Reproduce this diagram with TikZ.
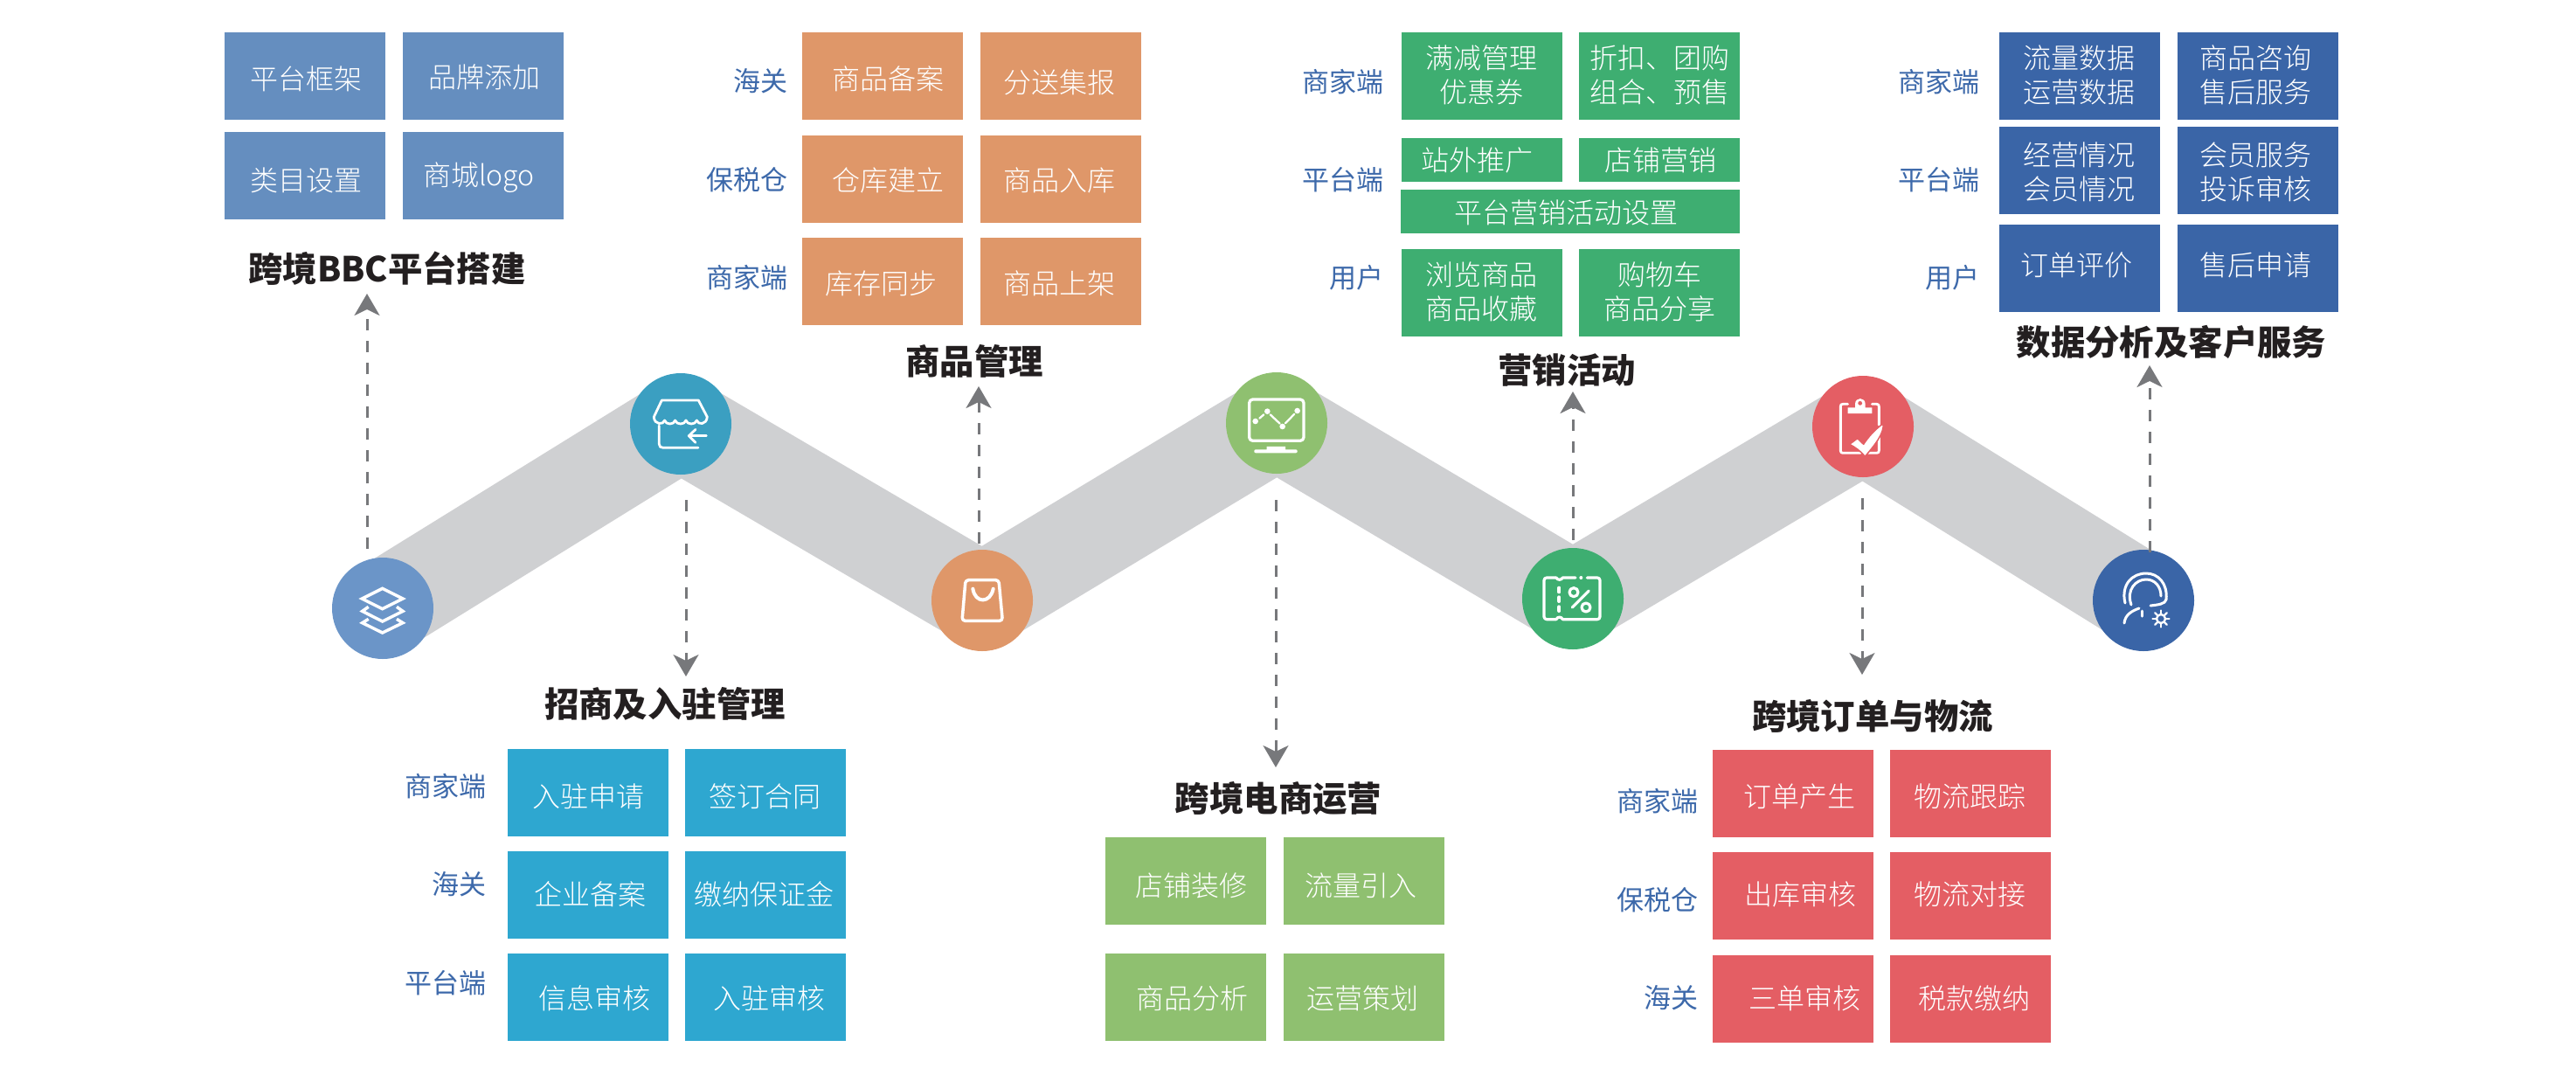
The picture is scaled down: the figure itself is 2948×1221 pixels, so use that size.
\documentclass[tikz,border=0pt]{standalone}
\usepackage{fontspec}
\setmainfont{Noto Sans CJK SC}
\newfontfamily\thinfont{Noto Sans CJK SC Light}
\usepackage{tikz}
\usetikzlibrary{arrows.meta,backgrounds,calc}
\definecolor{frameblue}{HTML}{658EBF}
\definecolor{hubblue}{HTML}{6B95C8}
\definecolor{entrycyan}{HTML}{2EA7D0}
\definecolor{hubcyan}{HTML}{3B9FC1}
\definecolor{goodsorange}{HTML}{DF9769}
\definecolor{opsgreen}{HTML}{8FC070}
\definecolor{promogreen}{HTML}{3EAE71}
\definecolor{orderred}{HTML}{E45E64}
\definecolor{servblue}{HTML}{3A65A7}
\definecolor{bandgray}{HTML}{CFD0D2}
\definecolor{flowgray}{HTML}{77787B}
\definecolor{sideblue}{HTML}{3D69AA}
\definecolor{titleblack}{HTML}{231F20}
\begin{document}
\begin{tikzpicture}[
    x=1pt, y=-1pt,
    tile/.style={minimum width=184pt, minimum height=100pt, inner sep=0pt},
    tiletxt/.style={text=white, align=center, inner sep=0pt, font=\thinfont\fontsize{32}{39}\selectfont},
    sidelab/.style={text=sideblue, anchor=east, inner sep=0pt, font=\fontsize{31}{39}\selectfont},
    paneltitle/.style={text=titleblack, inner sep=0pt, font=\bfseries\fontsize{39.4}{45}\selectfont},
    hub/.style={circle, minimum size=116pt, inner sep=0pt},
    flow/.style={-{Stealth[length=25pt,width=29pt,inset=7pt]}, flowgray, line width=3pt, dash pattern=on 13pt off 12pt},
    icon/.style={white, line width=3pt, line cap=round, line join=round},
]
\useasboundingbox (0,0) rectangle (2948,1221);
% Hubs along the ribbon
\node[hub, fill=hubblue] (hub1) at (438,696) {};
\node[hub, fill=hubcyan] (hub2) at (779,485) {};
\node[hub, fill=goodsorange] (hub3) at (1124,687) {};
\node[hub, fill=opsgreen] (hub4) at (1461,484) {};
\node[hub, fill=promogreen] (hub5) at (1800,685) {};
\node[hub, fill=orderred] (hub6) at (2132,488) {};
\node[hub, fill=servblue] (hub7) at (2453,687) {};
\begin{pgfonlayer}{background}
\draw[bandgray, line width=107pt, line join=bevel] (hub1.center) -- (hub2.center) -- (hub3.center) -- (hub4.center) -- (hub5.center) -- (hub6.center) -- (hub7.center);
\end{pgfonlayer}

% Platform setup
\foreach \bx/\by/\tx/\ty/\lab [count=\i] in {349/87/350/90/平台框架, 553/87/554/88/品牌添加, 349/201/350/206/类目设置, 553/201/548/203/商城logo} {
    \node[tile, fill=frameblue] (fb\i) at (\bx,\by) {};
    \node[tiletxt] (ft\i) at (\tx,\ty) {\lab};
}
\node[paneltitle] (ttl1) at (443,307) {跨境BBC平台搭建};

% Goods
\foreach \bx/\by/\tx/\ty/\lab [count=\i] in {1010/87/1016/90/商品备案, 1214/87/1212/94/分送集报, 1010/205/1016/206/仓库建立, 1214/205/1212/206/商品入库, 1010/322/1008/324/库存同步, 1214/322/1212/324/商品上架} {
    \node[tile, fill=goodsorange] (gb\i) at (\bx,\by) {};
    \node[tiletxt] (gt\i) at (\tx,\ty) {\lab};
}
\node[sidelab] (gs1) at (902,93) {海关};
\node[sidelab] (gs2) at (902,206) {保税仓};
\node[sidelab] (gs3) at (902,318) {商家端};
\node[paneltitle] (ttl3) at (1115,413) {商品管理};

% Promotions
\foreach \bx/\by/\tx/\ty/\lab [count=\i] in {1696/87/1695/86/{满减管理\\优惠券}, 1899/87/1899/86/{折扣、团购\\组合、预售}, 1696/335/1695/334/{浏览商品\\商品收藏}, 1899/335/1899/334/{购物车\\商品分享}} {
    \node[tile, fill=promogreen] (pb\i) at (\bx,\by) {};
    \node[tiletxt] (pt\i) at (\tx,\ty) {\lab};
}
\node[tile, minimum height=50pt, fill=promogreen] (pb5) at (1696,183) {};
\node[tiletxt] (pt5) at (1690,183) {站外推广};
\node[tile, minimum height=50pt, fill=promogreen] (pb6) at (1899,183) {};
\node[tiletxt] (pt6) at (1900,183) {店铺营销};
\node[tile, minimum width=388pt, minimum height=50pt, fill=promogreen] (pb7) at (1797,242) {};
\node[tiletxt] (pt7) at (1792,243) {平台营销活动设置};
\node[sidelab] (ps1) at (1584,94) {商家端};
\node[sidelab] (ps2) at (1584,206) {平台端};
\node[sidelab] (ps3) at (1584,318) {用户};
\node[paneltitle] (ttl5) at (1793,424) {营销活动};

% Data and service
\foreach \bx/\by/\tx/\ty/\lab [count=\i] in {2380/87/2379/86/{流量数据\\运营数据}, 2584/87/2581/86/{商品咨询\\售后服务}, 2380/195/2379/197/{经营情况\\会员情况}, 2584/195/2581/197/{会员服务\\投诉审核}, 2380/307/2376/303/订单评价, 2584/307/2581/303/售后申请} {
    \node[tile, fill=servblue] (sb\i) at (\bx,\by) {};
    \node[tiletxt] (st\i) at (\tx,\ty) {\lab};
}
\node[sidelab] (ss1) at (2266,94) {商家端};
\node[sidelab] (ss2) at (2266,206) {平台端};
\node[sidelab] (ss3) at (2266,318) {用户};
\node[paneltitle] (ttl7) at (2485,391) {数据分析及客户服务};

% Onboarding
\foreach \bx/\by/\tx/\ty/\lab [count=\i] in {673/907/673/911/入驻申请, 876/907/875/911/签订合同, 673/1024/675/1023/企业备案, 876/1024/874/1023/缴纳保证金, 673/1141/680/1142/信息审核, 876/1141/880/1142/入驻审核} {
    \node[tile, fill=entrycyan] (eb\i) at (\bx,\by) {};
    \node[tiletxt] (et\i) at (\tx,\ty) {\lab};
}
\node[sidelab] (es1) at (557,900) {商家端};
\node[sidelab] (es2) at (557,1012) {海关};
\node[sidelab] (es3) at (557,1125) {平台端};
\node[paneltitle] (ttl2) at (761,805) {招商及入驻管理};

% Operations
\foreach \bx/\by/\tx/\ty/\lab [count=\i] in {1357/1008/1363/1013/店铺装修, 1561/1008/1557/1013/流量引入, 1357/1141/1364/1142/商品分析, 1561/1141/1559/1142/运营策划} {
    \node[tile, fill=opsgreen] (ob\i) at (\bx,\by) {};
    \node[tiletxt] (ot\i) at (\tx,\ty) {\lab};
}
\node[paneltitle] (ttl4) at (1463,914) {跨境电商运营};

% Orders
\foreach \bx/\by/\tx/\ty/\lab [count=\i] in {2052/908/2059/911/订单产生, 2255/908/2254/911/物流跟踪, 2052/1025/2060/1023/出库审核, 2255/1025/2254/1023/物流对接, 2052/1143/2065/1142/三单审核, 2255/1143/2259/1142/税款缴纳} {
    \node[tile, fill=orderred] (rb\i) at (\bx,\by) {};
    \node[tiletxt] (rt\i) at (\tx,\ty) {\lab};
}
\node[sidelab] (rs1) at (1944,917) {商家端};
\node[sidelab] (rs2) at (1944,1030) {保税仓};
\node[sidelab] (rs3) at (1944,1142) {海关};
\node[paneltitle] (ttl6) at (2143,819) {跨境订单与物流};

% Dashed arrows
\draw[flow] ([shift={(-18,-68)}]hub1.center) -- ([shift={(-23,29)}]ttl1.center);
\draw[flow] ([shift={(6,87)}]hub2.center) -- ([shift={(24,-31)}]ttl2.center);
\draw[flow] ([shift={(-4,-65)}]hub3.center) -- ([shift={(5,29)}]ttl3.center);
\draw[flow] ([shift={(-1,88)}]hub4.center) -- ([shift={(-3,-36)}]ttl4.center);
\draw[flow] ([shift={(0,-67)}]hub5.center) -- ([shift={(7,24)}]ttl5.center);
\draw[flow] ([shift={(-1,82)}]hub6.center) -- ([shift={(-12,-47)}]ttl6.center);
\draw[flow] ([shift={(7,-55)}]hub7.center) -- ([shift={(-25,27)}]ttl7.center);

% Layers icon
\begin{scope}[shift={(380,640)}, x=0.3333pt, y=-0.3333pt, icon, line cap=butt, line join=miter, line width=3.5pt]
\draw (173,100) -- (243,135) -- (173,170) -- (103,135) -- cycle;
\draw (125,163) -- (104,178) -- (173,213) -- (243,178) -- (222,163);
\draw (125,205) -- (104,218) -- (173,252) -- (243,218) -- (222,205);
\end{scope}
% Store icon
\begin{scope}[shift={(720,427)}, x=0.3333pt, y=-0.3333pt, icon, line width=2.8pt]
\draw (112,93) -- (238,93) -- (268,150) .. controls (266,178) and (236,178) .. (232,162) .. controls (228,178) and (199,178) .. (195,162) .. controls (191,178) and (162,178) .. (158,162) .. controls (154,178) and (126,178) .. (122,162) .. controls (118,178) and (86,178) .. (85,150) -- cycle;
\draw (103,180) -- (103,243) .. controls (103,252) and (108,256) .. (117,256) -- (237,256);
\draw (265,215) -- (205,215);
\draw (228,193) -- (205,215) -- (228,238);
\end{scope}
% Bag icon
\begin{scope}[shift={(1065,628)}, x=0.3333pt, y=-0.3333pt, icon, line width=3.5pt]
\draw[rounded corners=3.5pt] (120,107) -- (234,107) -- (247,247) -- (108,247) -- cycle;
\draw[line width=4pt] (145,137) .. controls (153,188) and (205,188) .. (215,137);
\end{scope}
% Screen icon
\begin{scope}[shift={(1402,426)}, x=0.3333pt, y=-0.3333pt, icon, line width=3.3pt]
\draw[rounded corners=4pt] (83,93) rectangle (270,235);
\foreach \x/\y in {104/168, 145/134, 197/186, 248/132} {
    \fill (\x,\y) circle (3.3pt);
}
\draw[line width=2.3pt] (118,158) -- (133,145) (155,145) -- (188,176) (207,175) -- (238,143);
\fill (143,255) -- (207,255) -- (207,265) -- (243,265) .. controls (250,265) and (250,277) .. (243,277) -- (105,277) .. controls (98,277) and (98,265) .. (105,265) -- (143,265) -- cycle;
\end{scope}
% Coupon icon
\begin{scope}[shift={(1741,626)}, x=0.3333pt, y=-0.3333pt, icon, line width=3.2pt]
\draw[rounded corners=3pt] (120,105) -- (78,105) -- (78,248) -- (120,248);
\draw (120,248) .. controls (124,238) and (138,238) .. (142,248);
\draw[rounded corners=3pt] (142,248) -- (270,248) -- (270,105) -- (226,105);
\draw (120,105) .. controls (124,114) and (138,114) .. (142,105) -- (186,105);
\fill (205,105) circle (2pt);
\foreach \y in {140, 172, 205} {
    \draw[line width=4pt] (130,\y) -- (130,\y+14);
}
\draw (180,155) circle (5pt);
\draw (222,207) circle (5pt);
\draw (232,150) -- (175,207);
\end{scope}
% Clipboard icon
\begin{scope}[shift={(2073,429)}, x=0.3333pt, y=-0.3333pt, icon, line width=2.8pt]
\draw (125,100) -- (108,100) .. controls (102,100) and (100,103) .. (100,108) -- (100,260) .. controls (100,266) and (103,268) .. (108,268) -- (168,268);
\draw (195,268) -- (224,268) .. controls (230,268) and (232,265) .. (232,260) -- (232,215);
\draw (232,172) -- (232,108) .. controls (232,103) and (230,100) .. (224,100) -- (208,100);
\fill (125,112) -- (150,112) -- (150,100) .. controls (150,75) and (185,75) .. (185,100) -- (185,112) -- (208,112) -- (208,132) -- (125,132) -- cycle;
\fill[orderred] (167,97) circle (2.4pt);
\fill[draw=orderred, line width=1.5pt] (131,238) -- (158,218) -- (179,238) .. controls (195,213) and (220,185) .. (247,167) .. controls (248,200) and (225,232) .. (184,280) .. controls (170,262) and (150,248) .. (131,238) -- cycle;
\end{scope}
% Headset icon
\begin{scope}[icon, line width=3pt]
\draw (2432,690) .. controls (2427,669) and (2440,656) .. (2456,656) .. controls (2470,656) and (2481,668) .. (2479,686);
\draw (2439,692) .. controls (2433,675) and (2444,663) .. (2456,663) .. controls (2466,663) and (2473,671) .. (2473,682);
\draw (2479,686) .. controls (2478,691) and (2470,692) .. (2461,693);
\draw (2431,713) .. controls (2432,703) and (2440,699) .. (2448,696);
\draw (2451,699) -- (2451,705);
\draw[line width=2.4pt] (2473,708) circle (5pt);
\foreach \a in {0,45,...,315} {
    \draw[line width=2.4pt] ($(2473,708)+(\a:6)$) -- ($(2473,708)+(\a:9.5)$);
}
\end{scope}
\end{tikzpicture}
\end{document}
